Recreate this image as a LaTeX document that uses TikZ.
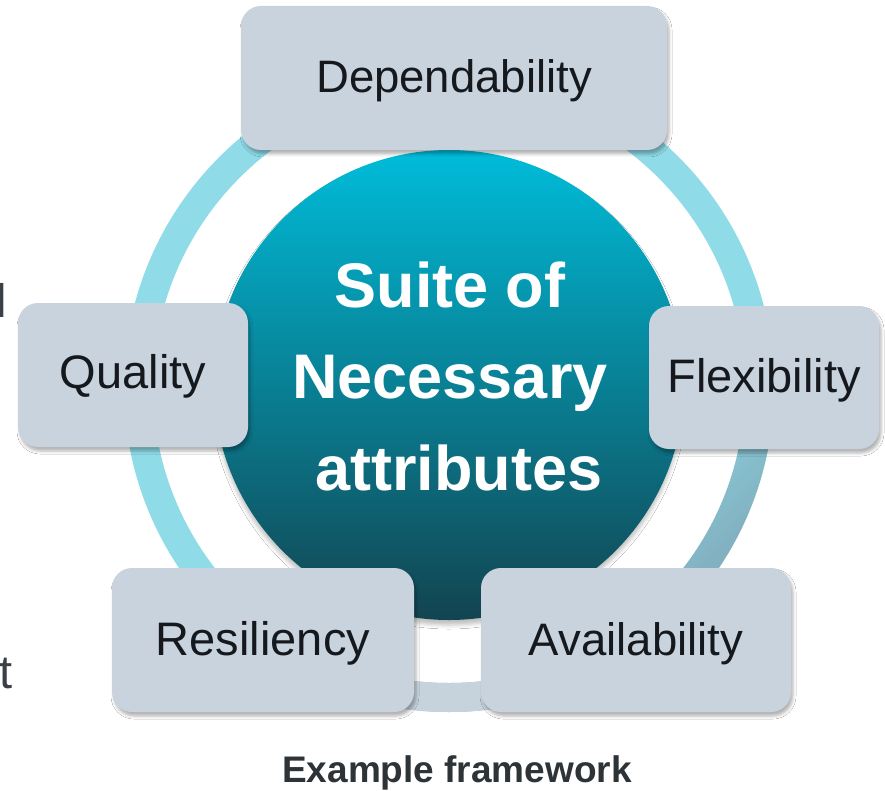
\documentclass[tikz,border=0pt]{standalone}
\usepackage{fontspec}
\setmainfont{Liberation Sans}
\usetikzlibrary{shadows.blur}
\definecolor{boxfill}{HTML}{C9D3DE}
\definecolor{boxtext}{HTML}{15191E}
\definecolor{ringA}{HTML}{8FDBE8}
\definecolor{ringB}{HTML}{82B1C0}
\definecolor{ringC}{HTML}{C6D2DC}
\definecolor{discTop}{HTML}{00BCD9}
\definecolor{discMid}{HTML}{0A8294}
\definecolor{discBot}{HTML}{124450}
\definecolor{captext}{HTML}{2E3338}
\definecolor{straytext}{HTML}{3B4046}
\pgfdeclareverticalshading{ringsh}{100bp}{color(0bp)=(ringB); color(26bp)=(ringB); color(38bp)=(ringA); color(100bp)=(ringA)}
\tikzset{
  attrbox/.style={draw=none, fill=boxfill, rounded corners=20pt, inner sep=0pt,
    text=boxtext, text depth=0pt,
    blur shadow={shadow xshift=2pt, shadow yshift=-4pt, shadow blur radius=3pt, shadow opacity=30}},
  bigfont/.style={font=\fontsize{47pt}{56pt}\selectfont},
  midfont/.style={font=\fontsize{45.5pt}{54pt}\selectfont},
  straychar/.style={inner sep=0pt, anchor=base west, text=straytext, font=\fontsize{47pt}{56pt}\selectfont},
}
\begin{document}
\begin{tikzpicture}[x=1pt, y=-1pt]
\useasboundingbox (0,0) rectangle (885,791);
\fill[white] (0,0) rectangle (885,791);

% ring
\coordinate (rc) at (449,387);
\shade[even odd rule, shading=ringsh, shading angle=45]
  (rc) circle[radius=325pt] (rc) circle[radius=296pt];
\begin{scope}
  \clip (400,650) rectangle (500,730);
  \fill[ringC, even odd rule] (rc) circle[radius=325pt] (rc) circle[radius=296pt];
\end{scope}

% central disc
\node[circle, minimum size=470pt, inner sep=0pt, draw=none,
  top color=discTop, middle color=discMid, bottom color=discBot,
  blur shadow={shadow xshift=0pt, shadow yshift=-5pt, shadow blur radius=4pt, shadow opacity=25}]
  (disc) at (449,385) {};
\node[align=center, text=white, font=\bfseries\fontsize{63pt}{91.5pt}\selectfont, inner sep=0pt]
  (suite) at (450,376) {Suite of\\Necessary\\\hspace*{17.5pt}attributes};

% attribute boxes
\node[attrbox, midfont, minimum width=426pt, minimum height=144pt, text height=30pt]
  (dep) at (454,78) {Dependability};
\node[attrbox, bigfont, minimum width=230pt, minimum height=144pt, text height=26pt]
  (qual) at (133,375) {Quality};
\node[attrbox, bigfont, minimum width=230pt, minimum height=143pt, text height=29pt]
  (flex) at (764,377.5) {Flexibility};
\node[attrbox, bigfont, minimum width=302pt, minimum height=144pt, text height=30pt]
  (res) at (263,640) {Resiliency};
\node[attrbox, midfont, minimum width=310pt, minimum height=144pt, text height=30pt]
  (avail) at (636,640) {Availability};

% caption
\node[anchor=base, inner sep=0pt, text=captext, font=\bfseries\fontsize{37pt}{44pt}\selectfont]
  (cap) at (457,782.5) {Example framework};

% cropped letters at the left edge
\node[straychar] (strayl) at (-4.1,317) {l};
\node[straychar] (strayt) at (-1,688) {t};
\end{tikzpicture}
\end{document}
